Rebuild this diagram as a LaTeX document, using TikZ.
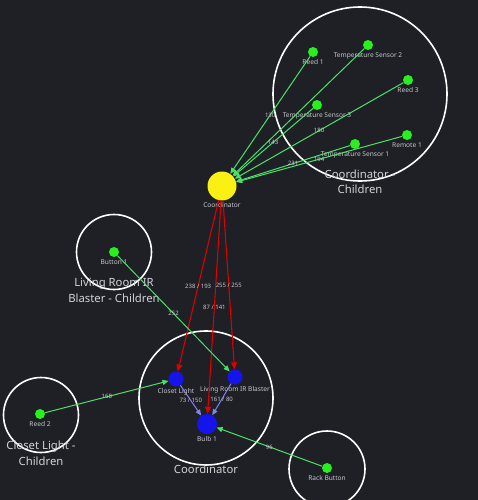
\documentclass[tikz,border=0pt]{standalone}
\usepackage{fontspec}
\setmainfont{Noto Sans}
\usetikzlibrary{arrows.meta}
\definecolor{bgdark}{RGB}{30,32,38}
\definecolor{leafgreen}{RGB}{40,240,30}
\definecolor{linkgreen}{RGB}{75,225,105}
\definecolor{hubyellow}{RGB}{250,240,20}
\definecolor{routerblue}{RGB}{20,20,235}
\definecolor{linkred}{RGB}{220,0,0}
\definecolor{linkpurple}{RGB}{130,130,235}
\definecolor{labelgray}{RGB}{200,200,205}

\begin{document}
\begin{tikzpicture}[
    x=1pt, y=-1pt,
    nlabel/.style={font=\fontsize{6.6}{7}\selectfont, text=labelgray, inner sep=1pt, label distance=1pt},
    leaf/.style={circle, fill=leafgreen, minimum size=10pt, inner sep=0pt, label={[nlabel]below:#1}},
    router/.style={circle, fill=routerblue, minimum size=15pt, inner sep=0pt, label={[nlabel]below:#1}},
    hub/.style={circle, fill=hubyellow, minimum size=29pt, inner sep=0pt, label={[nlabel]below:#1}},
    group/.style={circle, draw=white, line width=1.6pt, minimum size=#1, inner sep=0pt},
    glabel/.style={align=center, font=\fontsize{11.3}{15.5}\selectfont, text=labelgray!80!white, inner sep=0pt},
    elabel/.style={font=\fontsize{6}{6.5}\selectfont, text=labelgray, inner sep=0pt},
    gedge/.style={draw=linkgreen, line width=1pt, -{Triangle[length=6pt, width=5pt]}},
    redge/.style={draw=linkred, line width=1.1pt, -{Triangle[length=7pt, width=6pt]}},
    pedge/.style={draw=linkpurple, line width=1pt, -{Triangle[length=6pt, width=5pt]}}
  ]
    \fill[bgdark] (0,0) rectangle (478,500);
    \useasboundingbox (0,0) rectangle (478,500);

    % groups
    \node[group=174pt] (gcoordkids) at (360,94) {};
    \node[group=75pt] (gblaster) at (114,252) {};
    \node[group=75pt] (gcloset) at (41,415) {};
    \node[group=134pt] (gcoord) at (206,398) {};
    \node[group=76pt] (grack) at (327,469) {};
    \node[glabel] at (gcoordkids.south) {Coordinator -\\Children};
    \node[glabel] at (gblaster.south) {Living Room IR\\Blaster - Children};
    \node[glabel] at (gcloset.south) {Closet Light -\\Children};
    \node[glabel, yshift=-3pt] at (gcoord.south) {Coordinator};

    % devices
    \node[hub=Coordinator] (coord) at (222,186) {};
    \node[leaf={Reed 1}] (reedone) at (313,52) {};
    \node[leaf={Temperature Sensor 2}] (tempb) at (368,45) {};
    \node[leaf={Reed 3}] (reedthree) at (408,80) {};
    \node[leaf={Temperature Sensor 3}] (tempc) at (317,105) {};
    \node[leaf={Remote 1}] (remote) at (407,135) {};
    \node[leaf={Temperature Sensor 1}] (tempa) at (355,144) {};
    \node[leaf={Button 1}] (button) at (114,252) {};
    \node[leaf={Reed 2}] (reedtwo) at (40,414) {};
    \node[leaf={Rack Button}] (rack) at (327,468) {};
    \node[router={Closet Light}] (closet) at (176,379) {};
    \node[router={Living Room IR Blaster}] (blaster) at (235,377) {};
    \node[router={Bulb 1}, minimum size=20pt] (bulb) at (207,424) {};

    % links
    \draw[gedge] (reedone) -- node[elabel] {130} (coord);
    \draw[gedge] (tempb) -- (coord);
    \draw[gedge] (tempc) -- node[elabel] {143} (coord);
    \draw[gedge] (reedthree) -- node[elabel] {180} (coord);
    \draw[gedge] (tempa) -- node[elabel] {231} (coord);
    \draw[gedge] (remote) -- node[elabel] {194} (coord);
    \draw[redge] (coord) -- node[elabel] {238 / 193} (closet);
    \draw[redge] (coord) -- node[elabel] {255 / 255} (blaster);
    \draw[redge] (coord) -- node[elabel] {87 / 141} (bulb);
    \draw[gedge] (button) -- node[elabel] {252} (blaster);
    \draw[gedge] (reedtwo) -- node[elabel] {168} (closet);
    \draw[gedge] (rack) -- node[elabel] {96} (bulb);
    \draw[pedge] (closet) -- node[elabel] {73 / 150} (bulb);
    \draw[pedge] (blaster) -- node[elabel] {161 / 80} (bulb);
  \end{tikzpicture}
\end{document}
